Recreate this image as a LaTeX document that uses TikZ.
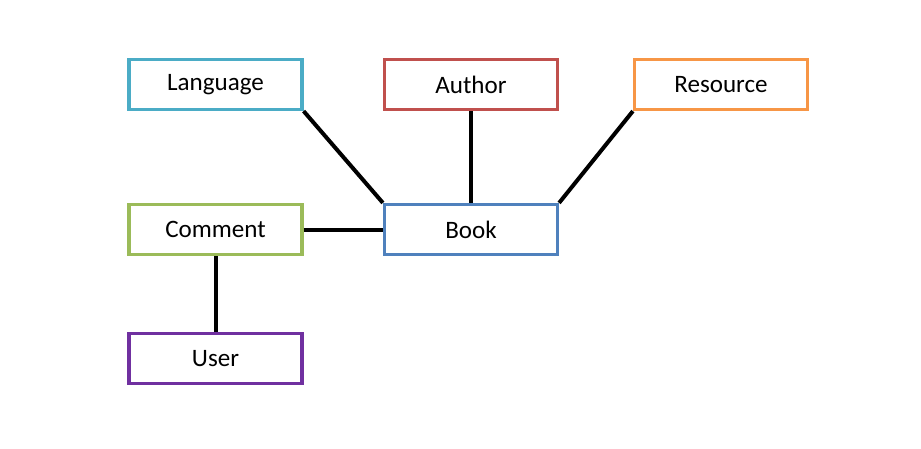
\documentclass[tikz,border=0pt]{standalone}
\usepackage{fontspec}
\setmainfont{Carlito}
\definecolor{cLang}{HTML}{4BACC6}
\definecolor{cAuth}{HTML}{C0504D}
\definecolor{cRes}{HTML}{F79646}
\definecolor{cCom}{HTML}{9BBB59}
\definecolor{cBook}{HTML}{4F81BD}
\definecolor{cUser}{HTML}{7030A0}
\begin{document}
\begin{tikzpicture}[x=0.75pt,y=-0.75pt,
  entity/.style={draw, line width=2.4pt, fill=white, minimum width=129.75pt, minimum height=37.5pt, inner sep=0pt, font=\fontsize{18.8}{22}\selectfont},
  link/.style={line width=3pt, black}]
\useasboundingbox (0,0) rectangle (921,449);
\node[entity, draw=cLang] (lang) at (215.5,84.5) {Language};
\node[entity, draw=cAuth] (auth) at (471,84.5) {Author};
\node[entity, draw=cRes] (res) at (721,84.5) {Resource};
\node[entity, draw=cCom] (com) at (215.5,229.5) {Comment};
\node[entity, draw=cBook] (book) at (471,229.5) {Book};
\node[entity, draw=cUser] (user) at (215.5,358.5) {User};
\draw[link] (lang.south east) -- (book.north west);
\draw[link] (auth.south) -- (book.north);
\draw[link] (res.south west) -- (book.north east);
\draw[link] (com.east) -- (book.west);
\draw[link] (com.south) -- (user.north);
\end{tikzpicture}
\end{document}
